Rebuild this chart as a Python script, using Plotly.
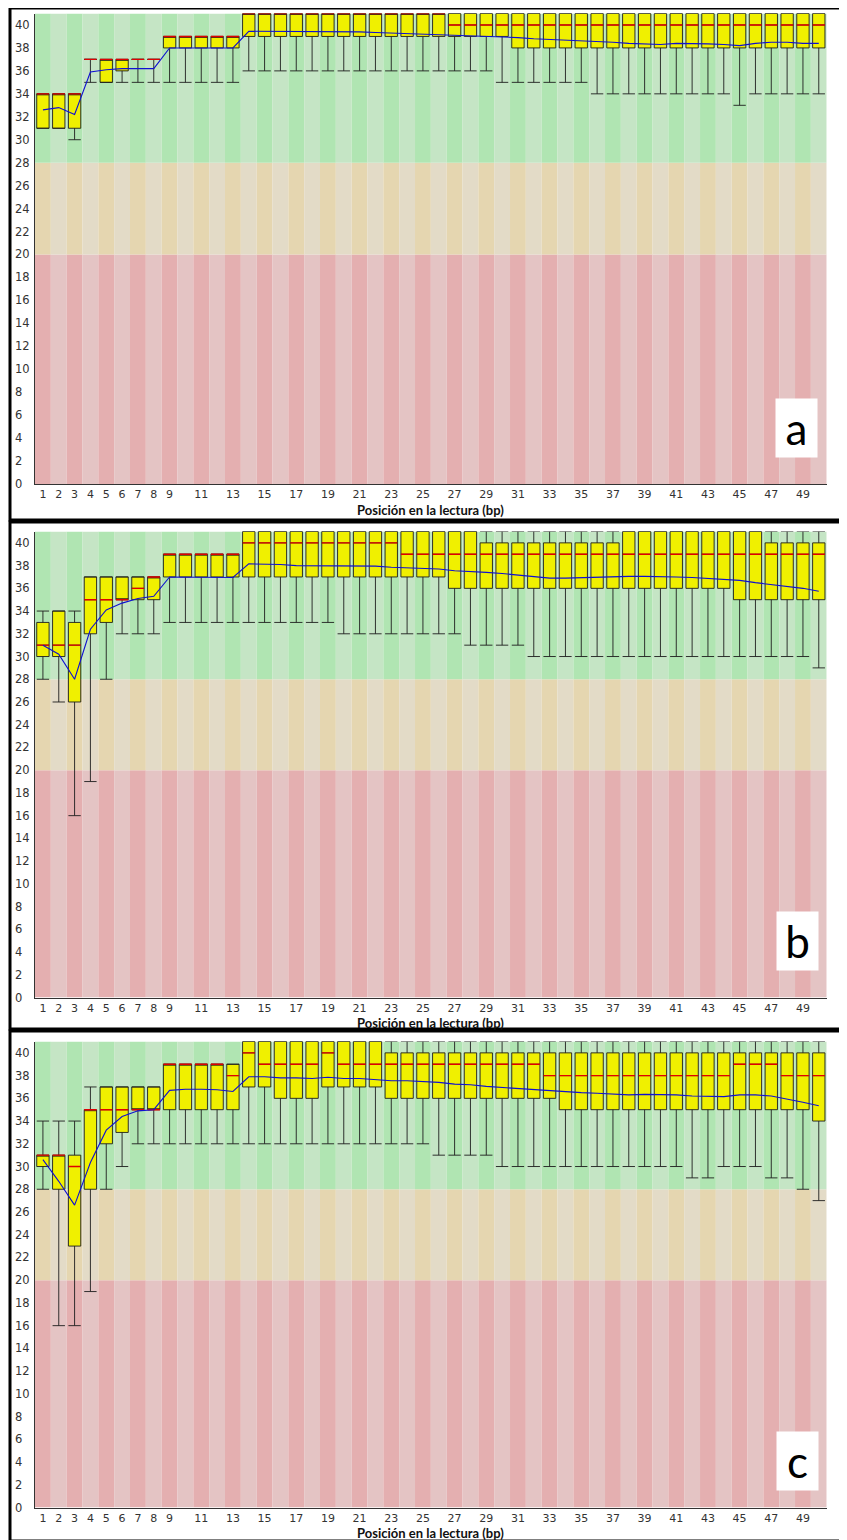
import plotly.graph_objects as go

W, H = 847, 1540
PAGE_MARGIN = 8  # default body margin of the html page

# ---------------- data ----------------
positions = list(range(1, 51))
tick_positions = list(range(1, 10)) + list(range(11, 50, 2))
tick_labels = [str(t) for t in tick_positions]
y_ticks = list(range(0, 41, 2))
x_title = "Posición en la lectura (bp)"
panel_letters = ["a", "b", "c"]

zone_bad = (0, 20)
zone_warn = (20, 28)
zone_good = (28, 41)

# panel a
a_lower = [31, 31, 30] + [35] * 5 + [35] * 5 + [36] * 16 + [35] * 6 + [34] * 9 + [33] + [34] * 5
a_q1 = [31, 31, 31, 37, 35, 36, 37, 37] + [38] * 5 + [39] * 17 + [38] * 20
a_median = [34] * 3 + [37] * 5 + [39] * 5 + [41] * 13 + [40] * 24
a_q3 = [34] * 3 + [37] * 5 + [39] * 5 + [41] * 37
a_upper = [34] * 3 + [37] * 5 + [39] * 5 + [41] * 37
a_mean = [32.6, 32.8, 32.2, 35.9, 36.1, 36.2, 36.2, 36.2, 38.0, 38.0,
          38.0, 38.0, 38.0, 39.45, 39.45, 39.45, 39.45, 39.4, 39.4, 39.4,
          39.4, 39.35, 39.3, 39.3, 39.25, 39.2, 39.15, 39.1, 39.0, 38.95,
          38.9, 38.8, 38.75, 38.7, 38.6, 38.55, 38.5, 38.4, 38.35, 38.3,
          38.4, 38.4, 38.35, 38.3, 38.2, 38.4, 38.5, 38.5, 38.4, 38.4]

# panel b
b_lower = [28, 26, 16, 19, 28] + [32] * 3 + [33] * 5 + [33] * 6 + [32] * 8 + [31] * 4 + [30] * 18 + [29]
b_q1 = [30, 30, 26, 32, 33] + [35] * 3 + [37] * 18 + [36] * 18 + [35] * 6
b_median = [31, 31, 31, 35, 35, 35, 36, 37] + [39] * 5 + [40] * 10 + [39] * 27
b_q3 = [33, 34, 33] + [37] * 5 + [39] * 5 + [41] * 15 + [40] * 9 + [41] * 9 + [40] * 4
b_upper = [34] * 3 + [37] * 5 + [39] * 5 + [41] * 37
b_mean = [31.0, 30.2, 28.0, 32.4, 34.1, 34.7, 35.1, 35.3, 37.0, 37.0,
          37.0, 36.95, 36.95, 38.15, 38.15, 38.1, 38.0, 38.0, 37.95, 38.0,
          37.95, 37.95, 37.85, 37.8, 37.8, 37.7, 37.55, 37.5, 37.4, 37.3,
          37.15, 37.0, 36.9, 36.9, 36.95, 36.95, 37.0, 37.05, 37.05, 37.05,
          37.0, 36.95, 36.85, 36.8, 36.7, 36.5, 36.35, 36.2, 36.0, 35.75]

# panel c
c_lower = [28, 16, 16, 19, 28, 30] + [32] * 19 + [31] * 4 + [30] * 12 + [29, 29, 30, 30, 30, 29, 29, 28, 27]
c_q1 = [30, 28, 23, 28, 32, 33] + [35] * 7 + [37, 37] + [36] * 3 + [37] * 4 + [36] * 11 + [35] * 16 + [34]
c_median = [31, 31, 30] + [35] * 5 + [39] * 4 + [38, 40] + [39] * 4 + [40] + [39] * 13 + [38] * 12 + [39] * 3 + [38] * 3
c_q3 = [31, 31, 31, 35] + [37] * 4 + [39] * 5 + [41] * 9 + [40] * 28
c_upper = [34] * 3 + [37] * 5 + [39] * 5 + [41] * 37
c_mean = [30.6, 28.7, 26.6, 30.35, 33.2, 34.4, 34.9, 35.0, 36.7, 36.8,
          36.8, 36.75, 36.6, 37.9, 37.9, 37.8, 37.8, 37.75, 37.85, 37.75,
          37.75, 37.65, 37.55, 37.55, 37.5, 37.4, 37.25, 37.2, 37.05, 36.95,
          36.85, 36.75, 36.7, 36.6, 36.5, 36.45, 36.35, 36.3, 36.35, 36.35,
          36.3, 36.2, 36.15, 36.15, 36.3, 36.3, 36.2, 35.95, 35.65, 35.35]

# ---------------- styling / layout constants ----------------
GOOD = ("rgb(176,229,178)", "rgb(197,229,197)")
WARN = ("rgb(229,214,176)", "rgb(227,219,199)")
BAD = ("rgb(228,175,176)", "rgb(228,196,196)")
BOX_FILL = "#f0f000"
BOX_LINE = "rgba(30,30,30,0.9)"
MEDIAN_COLOR = "#e00000"
MEAN_COLOR = "#1010d0"
BOX_WIDTH = 0.78

PLOT_LEFT, PLOT_RIGHT = 35, 826.7
# (pixel y of value 41, pixel y of value 0) per panel, in page pixels
panel_px = [(13.5, 484.0), (531.5, 997.5), (1041.5, 1507.5)]
frame_px = [(8, 520), (522, 1029), (1031, 1541)]
letter_px = [(796, 428), (797, 941), (797, 1461)]

FW, FH = W - PAGE_MARGIN, H - PAGE_MARGIN


def fx(x):
    return (x - PAGE_MARGIN) / FW


def fy(y):
    return 1 - (y - PAGE_MARGIN) / FH


panels = [
    (a_lower, a_q1, a_median, a_q3, a_upper, a_mean),
    (b_lower, b_q1, b_median, b_q3, b_upper, b_mean),
    (c_lower, c_q1, c_median, c_q3, c_upper, c_mean),
]

fig = go.Figure()
layout = dict(
    width=FW, height=FH, autosize=False,
    margin=dict(l=0, r=0, t=0, b=0),
    paper_bgcolor="white", plot_bgcolor="white",
    barmode="overlay", showlegend=False,
    annotations=[], shapes=[],
)


def stripes(dark, light):
    return [dark if p % 2 == 1 else light for p in positions]


for i, (lo, q1, med, q3, up, mean) in enumerate(panels):
    suf = "" if i == 0 else str(i + 1)
    xa, ya = "x" + suf, "y" + suf
    top_px, bot_px = panel_px[i]

    for (z0, z1), (dark, light) in [(zone_bad, BAD), (zone_warn, WARN), (zone_good, GOOD)]:
        fig.add_trace(go.Bar(
            x=positions, y=[z1 - z0] * len(positions), base=z0, width=1,
            marker=dict(color=stripes(dark, light), line=dict(width=0)),
            xaxis=xa, yaxis=ya, hoverinfo="skip"))

    fig.add_trace(go.Box(
        x=positions, q1=q1, median=med, q3=q3, lowerfence=lo, upperfence=up,
        width=BOX_WIDTH, whiskerwidth=1, fillcolor=BOX_FILL,
        line=dict(color=BOX_LINE, width=1), boxpoints=False,
        xaxis=xa, yaxis=ya, hoverinfo="skip"))

    mx, my = [], []
    for p, m in zip(positions, med):
        mx += [p - BOX_WIDTH / 2, p + BOX_WIDTH / 2, None]
        my += [m, m, None]
    fig.add_trace(go.Scatter(x=mx, y=my, mode="lines",
                             line=dict(color=MEDIAN_COLOR, width=1.4),
                             xaxis=xa, yaxis=ya, hoverinfo="skip"))
    fig.add_trace(go.Scatter(x=positions, y=mean, mode="lines",
                             line=dict(color=MEAN_COLOR, width=1.1),
                             xaxis=xa, yaxis=ya, hoverinfo="skip"))

    layout["xaxis" + suf] = dict(
        domain=[fx(PLOT_LEFT), fx(PLOT_RIGHT)], anchor=ya,
        range=[0.5, 50.5], tickmode="array", tickvals=tick_positions,
        ticktext=tick_labels, ticks="", showgrid=False, zeroline=False,
        showline=True, linecolor="#333", linewidth=1,
        tickfont=dict(family="DejaVu Sans", size=11, color="#333"),
        ticklabelstandoff=0, fixedrange=True)
    layout["yaxis" + suf] = dict(
        domain=[fy(bot_px), fy(top_px)], anchor=xa,
        range=[0, 41], showticklabels=False, ticks="", showgrid=False,
        zeroline=False, showline=True, linecolor="#333", linewidth=1,
        fixedrange=True)

    for t in y_ticks:
        layout["annotations"].append(dict(
            x=fx(13), xref="paper", xanchor="left", y=t, yref=ya,
            yanchor="middle", text=str(t), showarrow=False,
            font=dict(family="DejaVu Sans", size=11.5, color="#333")))

    layout["annotations"].append(dict(
        x=fx((PLOT_LEFT + PLOT_RIGHT) / 2), xref="paper", xanchor="center",
        y=fy(bot_px + 25.5), yref="paper", yanchor="middle", text="<b>" + x_title + "</b>",
        showarrow=False, font=dict(family="Lato", size=13, color="#111")))

    lx, ly = letter_px[i]
    layout["annotations"].append(dict(
        x=fx(lx), xref="paper", xanchor="center", y=fy(ly), yref="paper",
        yanchor="middle", text=panel_letters[i], showarrow=False,
        bgcolor="white", width=39, height=56, align="center", valign="middle",
        font=dict(family="Lato", size=44, color="black")))

    f0, f1 = frame_px[i]
    layout["shapes"].append(dict(
        type="rect", xref="paper", yref="paper", x0=fx(10), x1=fx(846),
        y0=fy(f1), y1=fy(f0), line=dict(color="black", width=3),
        fillcolor="rgba(0,0,0,0)", layer="above"))

fig.update_layout(**layout)
fig.write_html("out.html")
